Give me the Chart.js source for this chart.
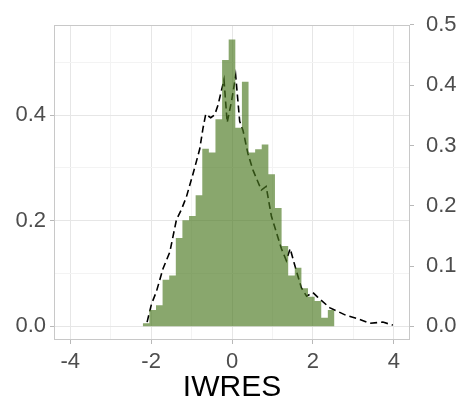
<!DOCTYPE html>
<html>
<head>
<meta charset="utf-8">
<script src="https://cdn.jsdelivr.net/npm/chart.js@4"></script>
<style>
  body { margin: 0; background: #fff; }
  canvas { display: block; }
</style>
</head>
<body>
<canvas id="myChart" width="461" height="404"></canvas>
<script>
// histogram bin edges and density heights (left axis)
const binEdges = [-2.206, -2.043, -1.879, -1.716, -1.552, -1.389, -1.226, -1.062, -0.899, -0.735,
  -0.572, -0.409, -0.245, -0.082, 0.082, 0.245, 0.409, 0.572, 0.735, 0.899,
  1.062, 1.226, 1.389, 1.552, 1.716, 1.879, 2.043, 2.206, 2.369, 2.533];
const density = [0.006, 0.031, 0.040, 0.088, 0.096, 0.167, 0.201, 0.209, 0.248, 0.336,
  0.329, 0.392, 0.504, 0.543, 0.376, 0.463, 0.329, 0.335, 0.344, 0.288,
  0.224, 0.152, 0.096, 0.111, 0.072, 0.056, 0.048, 0.016, 0.031];

// dashed curve (right axis)
const curveX = [-2.099, -1.990, -1.867, -1.704, -1.538, -1.373, -1.249, -1.126, -0.963, -0.798,
  -0.716, -0.649, -0.526, -0.427, -0.346, -0.198, -0.119, -0.007, 0.091, 0.190,
  0.272, 0.395, 0.519, 0.726, 0.844, 0.973, 1.220, 1.343, 1.437, 1.548,
  1.714, 1.844, 2.000, 2.123, 2.412, 2.825, 3.111, 3.400, 3.728, 3.975];
const curveY = [0.007, 0.037, 0.058, 0.096, 0.123, 0.177, 0.194, 0.215, 0.253, 0.294,
  0.329, 0.352, 0.346, 0.351, 0.367, 0.409, 0.338, 0.375, 0.416, 0.340,
  0.325, 0.286, 0.259, 0.226, 0.232, 0.183, 0.129, 0.109, 0.129, 0.102,
  0.064, 0.050, 0.056, 0.048, 0.031, 0.018, 0.0125, 0.005, 0.007, 0.002];

const xTicks = [-4, -3, -2, -1, 0, 1, 2, 3, 4];
const leftTicks = [0, 0.1, 0.2, 0.3, 0.4, 0.5];
const rightTicks = [0, 0.1, 0.2, 0.3, 0.4, 0.5];

const tickFont = { family: "'Liberation Sans', Arial, sans-serif", size: 22 };
const majorGrid = "#e6e6e6";
const minorGrid = "#f3f3f3";

const panelBorder = {
  id: "panelBorder",
  afterDraw(chart) {
    const { ctx, chartArea: a } = chart;
    ctx.save();
    ctx.strokeStyle = "#c8c8c8";
    ctx.lineWidth = 1;
    ctx.strokeRect(Math.round(a.left) + 0.5, Math.round(a.top) + 0.5,
      Math.round(a.right - a.left) - 1, Math.round(a.bottom - a.top) - 1);
    ctx.restore();
  },
};

new Chart(document.getElementById("myChart"), {
  type: "line",
  data: {
    datasets: [
      {
        // histogram as one stepped, filled outline so the bins have no seams
        data: binEdges.map((e, i) => ({ x: e, y: density[Math.min(i, density.length - 1)] })),
        stepped: "before",
        fill: "origin",
        backgroundColor: "rgba(74, 120, 30, 0.65)",
        borderWidth: 0,
        borderColor: "rgba(0,0,0,0)",
        pointRadius: 0,
        yAxisID: "y",
        order: 1,
      },
      {
        data: curveX.map((x, i) => ({ x: x, y: curveY[i] })),
        borderColor: "#000",
        borderWidth: 1.6,
        borderDash: [7, 4],
        pointRadius: 0,
        tension: 0,
        fill: false,
        yAxisID: "y2",
        order: 2,
      },
    ],
  },
  options: {
    responsive: false,
    animation: false,
    layout: { padding: { top: 18, left: 0, right: 0, bottom: 0 } },
    plugins: {
      legend: { display: false },
      tooltip: { enabled: false },
    },
    scales: {
      x: {
        type: "linear",
        min: -4.4,
        max: 4.4,
        afterBuildTicks: (s) => { s.ticks = xTicks.map((v) => ({ value: v })); },
        afterFit: (s) => { s.height = 64; },
        ticks: {
          font: tickFont,
          color: "#4d4d4d",
          padding: 5,
          maxRotation: 0,
          callback: (v) => (v % 2 === 0 ? String(v) : ""),
        },
        grid: {
          color: (c) => (c.tick && c.tick.value % 2 === 0 ? majorGrid : minorGrid),
          tickColor: (c) => (c.tick && c.tick.value % 2 === 0 ? "#b8b8b8" : "transparent"),
          tickLength: 4,
        },
        border: { display: false },
        title: {
          display: true,
          text: "IWRES",
          color: "#000",
          font: { family: "'Liberation Sans', Arial, sans-serif", size: 30 },
          padding: { top: 0, bottom: -2 },
        },
      },
      y: {
        position: "left",
        min: -0.0259,
        max: 0.570,
        afterBuildTicks: (s) => { s.ticks = leftTicks.map((v) => ({ value: v })); },
        afterFit: (s) => { s.width = 54; },
        ticks: {
          font: tickFont,
          color: "#4d4d4d",
          padding: 4,
          callback: (v) => ([0, 0.2, 0.4].some((t) => Math.abs(t - v) < 1e-9) ? v.toFixed(1) : ""),
        },
        grid: {
          color: (c) => (c.tick && Math.round(c.tick.value * 10) % 2 === 0 ? majorGrid : minorGrid),
          tickColor: (c) => (c.tick && Math.round(c.tick.value * 10) % 2 === 0 ? "#b8b8b8" : "transparent"),
          tickLength: 4,
        },
        border: { display: false },
      },
      y2: {
        position: "right",
        min: -0.0227,
        max: 0.4995,
        afterBuildTicks: (s) => { s.ticks = rightTicks.map((v) => ({ value: v })); },
        afterFit: (s) => { s.width = 51; },
        ticks: {
          font: tickFont,
          color: "#4d4d4d",
          padding: 12,
          callback: (v) => v.toFixed(1),
        },
        grid: {
          drawOnChartArea: false,
          tickColor: "#b8b8b8",
          tickLength: 4,
        },
        border: { display: false },
      },
    },
  },
  plugins: [panelBorder],
});
</script>
</body>
</html>
